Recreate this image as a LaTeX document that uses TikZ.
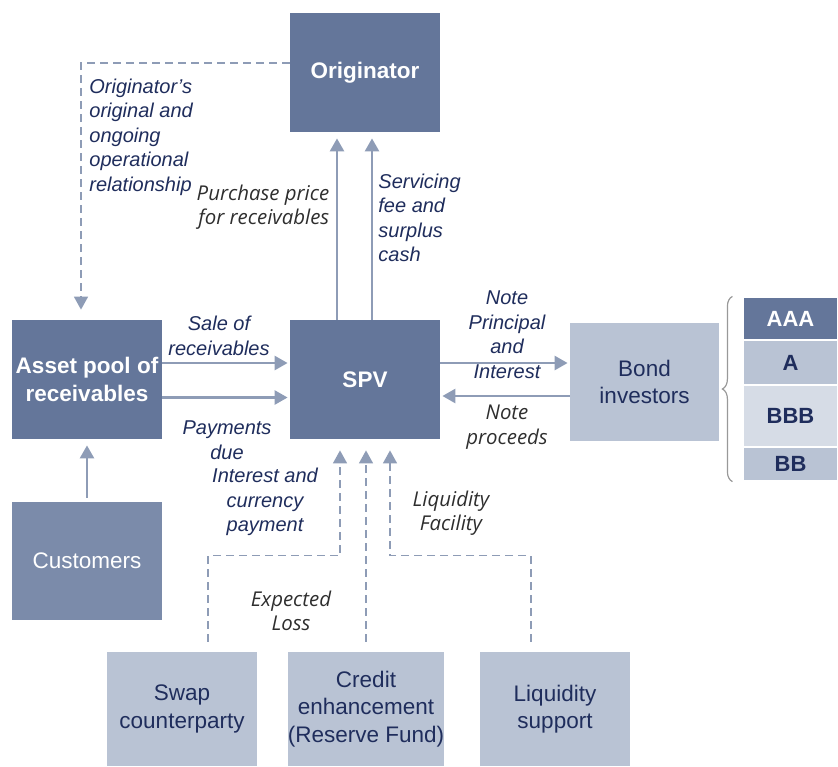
\documentclass[tikz,border=0pt]{standalone}
\usepackage{fontspec}
\setmainfont{Liberation Sans}
\newfontfamily\humfont{Open Sans}
\usetikzlibrary{arrows.meta,decorations.pathreplacing}
\definecolor{boxdark}{HTML}{64769A}
\definecolor{boxmid}{HTML}{7B8BAA}
\definecolor{boxlight}{HTML}{B9C3D4}
\definecolor{boxpale}{HTML}{D6DCE6}
\definecolor{flowgrey}{HTML}{8E9CB6}
\definecolor{navytext}{HTML}{1F2D5C}
\definecolor{greytext}{HTML}{2E2E2E}
\begin{document}
\begin{tikzpicture}[x=0.5pt,y=-0.5pt,
	box/.style={minimum width=75pt,minimum height=59.5pt,inner sep=0pt,align=center,font=\fontsize{11.25}{13.75}\selectfont},
	darkbox/.style={box,fill=boxdark,text=white,font=\bfseries\fontsize{11.25}{13.75}\selectfont},
	lightbox/.style={box,fill=boxlight,text=navytext,minimum height=57pt},
	tranche/.style={minimum width=47.5pt,inner sep=0pt,draw=white,line width=0.6pt,text=navytext,font=\bfseries\fontsize{11}{13}\selectfont},
	flow/.style={draw=flowgrey,line width=1.3pt,-{Triangle[length=6.5pt,width=7pt]}},
	link/.style={flow,line width=0.8pt,dash pattern=on 4pt off 2.5pt},
	lab/.style={inner sep=0pt,text=navytext,font=\itshape\fontsize{10}{12.25}\selectfont},
	hum/.style={inner sep=0pt,text=greytext,font=\humfont\itshape\fontsize{10.2}{12.2}\selectfont}]
	\useasboundingbox (0,0) rectangle (838,766);
	% boxes
	\node[darkbox] (orig) at (365,72.5) {Originator};
	\node[darkbox] (pool) at (87,379.5) {Asset pool of\\receivables};
	\node[darkbox] (spv) at (365,379.5) {SPV};
	\node[box,fill=boxmid,text=white,minimum height=59pt] (cust) at (87,561) {Customers};
	\node[lightbox,minimum width=74.5pt,minimum height=59pt] (bond) at (644.5,382) {Bond\\investors};
	\node[lightbox] (swap) at (182,709) {Swap\\counterparty};
	\node[lightbox] (credit) at (366,709) {Credit\\enhancement\\(Reserve Fund)};
	\node[lightbox] (liq) at (555,709) {Liquidity\\support};
	% tranches
	\node[tranche,fill=boxdark,text=white,minimum height=21.5pt] (aaa) at (790.5,318.5) {AAA};
	\node[tranche,fill=boxlight,minimum height=22pt] (a) at (790.5,362.5) {A};
	\node[tranche,fill=boxpale,minimum height=31pt] (bbb) at (790.5,416) {BBB};
	\node[tranche,fill=boxlight,minimum height=17pt] (bb) at (790.5,464) {BB};
	\draw[draw=gray!80,line width=0.6pt,decorate,decoration={brace,amplitude=5pt}]
		([xshift=-5pt]bb.south west) -- ([xshift=-5pt]aaa.north west);
	% connectors
	\draw[flow] ([xshift=-14pt]spv.north) -- ([xshift=-14pt,yshift=-3pt]orig.south);
	\draw[flow] ([xshift=3.5pt]spv.north) -- ([xshift=3.5pt,yshift=-3pt]orig.south);
	\draw[link,shorten >=5pt] ([yshift=4.75pt]orig.west) -| ([xshift=-3pt]pool.north);
	\draw[flow,shorten <=2pt,shorten >=3pt] (cust.north) -- (pool.south);
	\draw[flow,shorten >=1pt] ([yshift=8.25pt]pool.east) -- ([yshift=8.25pt]spv.west);
	\draw[flow,shorten >=1pt] ([yshift=-9pt]pool.east) -- ([yshift=-9pt]spv.west);
	\draw[flow,shorten >=1pt] ([yshift=8.25pt]spv.east) -- ([yshift=8.25pt]spv.east -| bond.west);
	\draw[flow,shorten >=1pt] ([yshift=-8.25pt]spv.east -| bond.west) -- ([yshift=-8.25pt]spv.east);
	\draw[link,shorten <=5pt,shorten >=5.5pt] ([xshift=13pt]swap.north) -- ++(0,-96) -| ([xshift=-12.5pt]spv.south);
	\draw[link,shorten <=5pt,shorten >=5.5pt] (credit.north) -- (credit.north |- spv.south);
	\draw[link,shorten <=5pt,shorten >=5.5pt] ([xshift=-12pt]liq.north) -- ++(0,-96) -| ([xshift=12.5pt]spv.south);
	% labels
	\node[lab,align=left,anchor=west] (rel) at (89,137) {Originator's\\original and\\ongoing\\operational\\relationship};
	\node[hum,align=right] (price) at (263,207) {Purchase price\\for receivables};
	\node[lab,align=left,anchor=west] (fee) at (378,218) {Servicing\\fee and\\surplus\\cash};
	\node[lab,align=center] (sale) at (219,336) {Sale of\\receivables};
	\node[lab,align=center] (due) at (227,440) {Payments\\due};
	\node[lab,align=center] (pi) at (507,334.5) {Note\\Principal\\and\\Interest};
	\node[hum,align=center] (proc) at (507,427) {Note\\proceeds};
	\node[lab,align=center] (swapint) at (265,502) {Interest and\\currency\\payment};
	\node[hum,align=center] (fac) at (451,513) {Liquidity\\Facility};
	\node[hum,align=center] (loss) at (291,611) {Expected\\Loss};
\end{tikzpicture}
\end{document}
